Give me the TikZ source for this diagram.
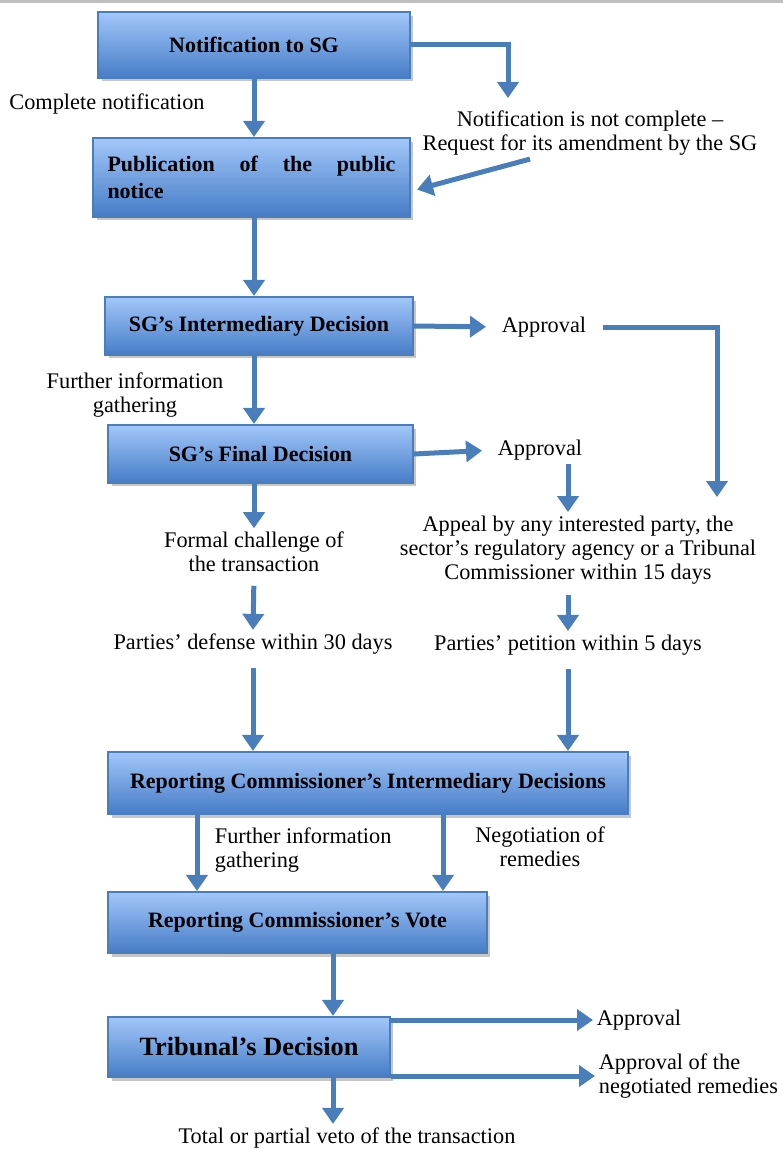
\documentclass[tikz,border=0pt]{standalone}
\usepackage{fontspec}
\setmainfont{Liberation Serif}
\usetikzlibrary{arrows.meta, calc, shadows, positioning}
\definecolor{luongxanh}{RGB}{74,126,187}
\definecolor{hoptren}{RGB}{162,199,250}
\definecolor{hopduoi}{RGB}{70,124,198}

\begin{document}
\begin{tikzpicture}[x=0.02cm,y=-0.02cm,
        hop/.style={draw=luongxanh, line width=1.2pt, top color=hoptren, bottom color=hopduoi,
            font=\bfseries\fontsize{12.5}{15}\selectfont,
            drop shadow={shadow xshift=0.07cm, shadow yshift=-0.07cm, fill=black!50, opacity=0.45}},
        nhan/.style={font=\fontsize{12.7}{13.6}\selectfont, align=center, inner sep=2pt},
        mui/.style={draw=luongxanh, line width=0.1cm, -{Triangle[width=0.42cm,length=0.32cm]}}]

        % Khung hình
        \useasboundingbox (0,0) rectangle (783,1149);
        \fill[black!25] (0,0) rectangle (783,3); % Vạch xám phía trên

        % Các hộp chính
        \node[hop, minimum width=6.24cm, minimum height=1.32cm] (n1) at (254,45) {Notification to SG};
        \node[hop, minimum width=6.34cm, minimum height=1.58cm, text width=5.76cm, align=left] (n2) at (251.5,177.5) {Publication\hfill of\hfill the\hfill public\\notice};
        \node[hop, minimum width=6.16cm, minimum height=1.16cm] (n3) at (259,326) {SG’s Intermediary Decision};
        \node[hop, minimum width=6.1cm, minimum height=1.16cm] (n4) at (260.5,454) {SG’s Final Decision};
        \node[hop, minimum width=10.4cm, minimum height=1.24cm] (n5) at (368,783) {Reporting Commissioner’s Intermediary Decisions};
        \node[hop, minimum width=7.58cm, minimum height=1.22cm] (n6) at (297.5,922.5) {Reporting Commissioner’s Vote};
        \node[hop, minimum width=5.64cm, minimum height=1.2cm, font=\bfseries\fontsize{15}{18}\selectfont] (n7) at (249,1047) {Tribunal’s Decision};

        % Các nhãn
        \node[nhan] (lcomp) at (107,104) {Complete notification};
        \node[nhan] (lnotc) at (590,133) {Notification is not complete –\\Request for its amendment by the SG};
        \node[nhan] (lappr1) at (544,327) {Approval};
        \node[nhan] (lfurth1) at (135,395) {Further information\\gathering};
        \node[nhan] (lappr2) at (540,450) {Approval};
        \node[nhan] (lappeal) at (578,550) {Appeal by any interested party, the\\sector’s regulatory agency or a Tribunal\\Commissioner within 15 days};
        \node[nhan] (lchal) at (254,552) {Formal challenge of\\the transaction};
        \node[nhan] (ldef) at (253,644) {Parties’ defense within 30 days};
        \node[nhan] (lpet) at (568,645) {Parties’ petition within 5 days};
        \node[nhan, align=left, anchor=west] (lfurth2) at (211,850) {Further information\\gathering};
        \node[nhan] (lneg) at (540,847) {Negotiation of\\remedies};
        \node[nhan, anchor=west] (lappr3) at (593,1020) {Approval};
        \node[nhan, align=left, anchor=west] (lappr4) at (595,1076) {Approval of the\\negotiated remedies};
        \node[nhan] (lveto) at (347,1138) {Total or partial veto of the transaction};

        % Điểm phụ
        \coordinate (c1) at (508,98);
        \coordinate (c2) at (717,497);
        \coordinate (c3) at (197,0);
        \coordinate (c4) at (443,0);
        \coordinate (c5) at (333,0);

        % Các mũi tên
        \draw[mui] (n1.south -| lchal.north) -- (n2.north -| lchal.north);
        \draw[mui] (n1.east) -| (c1);
        \draw[mui] ($(lnotc.south)+(-60,0)$) -- ($(n2.east)+(6,12)$);
        \draw[mui] (n2.south -| lchal.north) -- (n3.north -| lchal.north);
        \draw[mui, shorten >=0.24cm] (n3.east) -- (lappr1.west);
        \draw[mui, shorten <=0.25cm] (lappr1.east) -| (c2);
        \draw[mui] (n3.south -| lchal.north) -- (n4.north -| lchal.north);
        \draw[mui, shorten >=0.24cm] (n4.east) -- (lappr2.west);
        \draw[mui] (lpet.north |- lappr2.south) -- (lpet.north |- lappeal.north);
        \draw[mui, shorten <=0.15cm] (lpet.north |- lappeal.south) -- (lpet.north);
        \draw[mui, shorten <=0.2cm] (lpet.south) -- (lpet.south |- n5.north);
        \draw[mui] (lchal.north |- n4.south) -- (lchal.north);
        \draw[mui, shorten <=0.2cm] (lchal.south) -- (ldef.north);
        \draw[mui, shorten <=0.2cm] (ldef.south) -- (ldef.south |- n5.north);
        \draw[mui] (n5.south -| c3) -- (n6.north -| c3);
        \draw[mui] (n5.south -| c4) -- (n6.north -| c4);
        \draw[mui] (n6.south -| c5) -- (n7.north -| c5);
        \draw[mui] (n7.east |- lappr3.west) -- (lappr3.west);
        \draw[mui] (n7.east |- lappr4.west) -- (lappr4.west);
        \draw[mui] (n7.south -| c5) -- (lveto.north -| c5);

\end{tikzpicture}
\end{document}
